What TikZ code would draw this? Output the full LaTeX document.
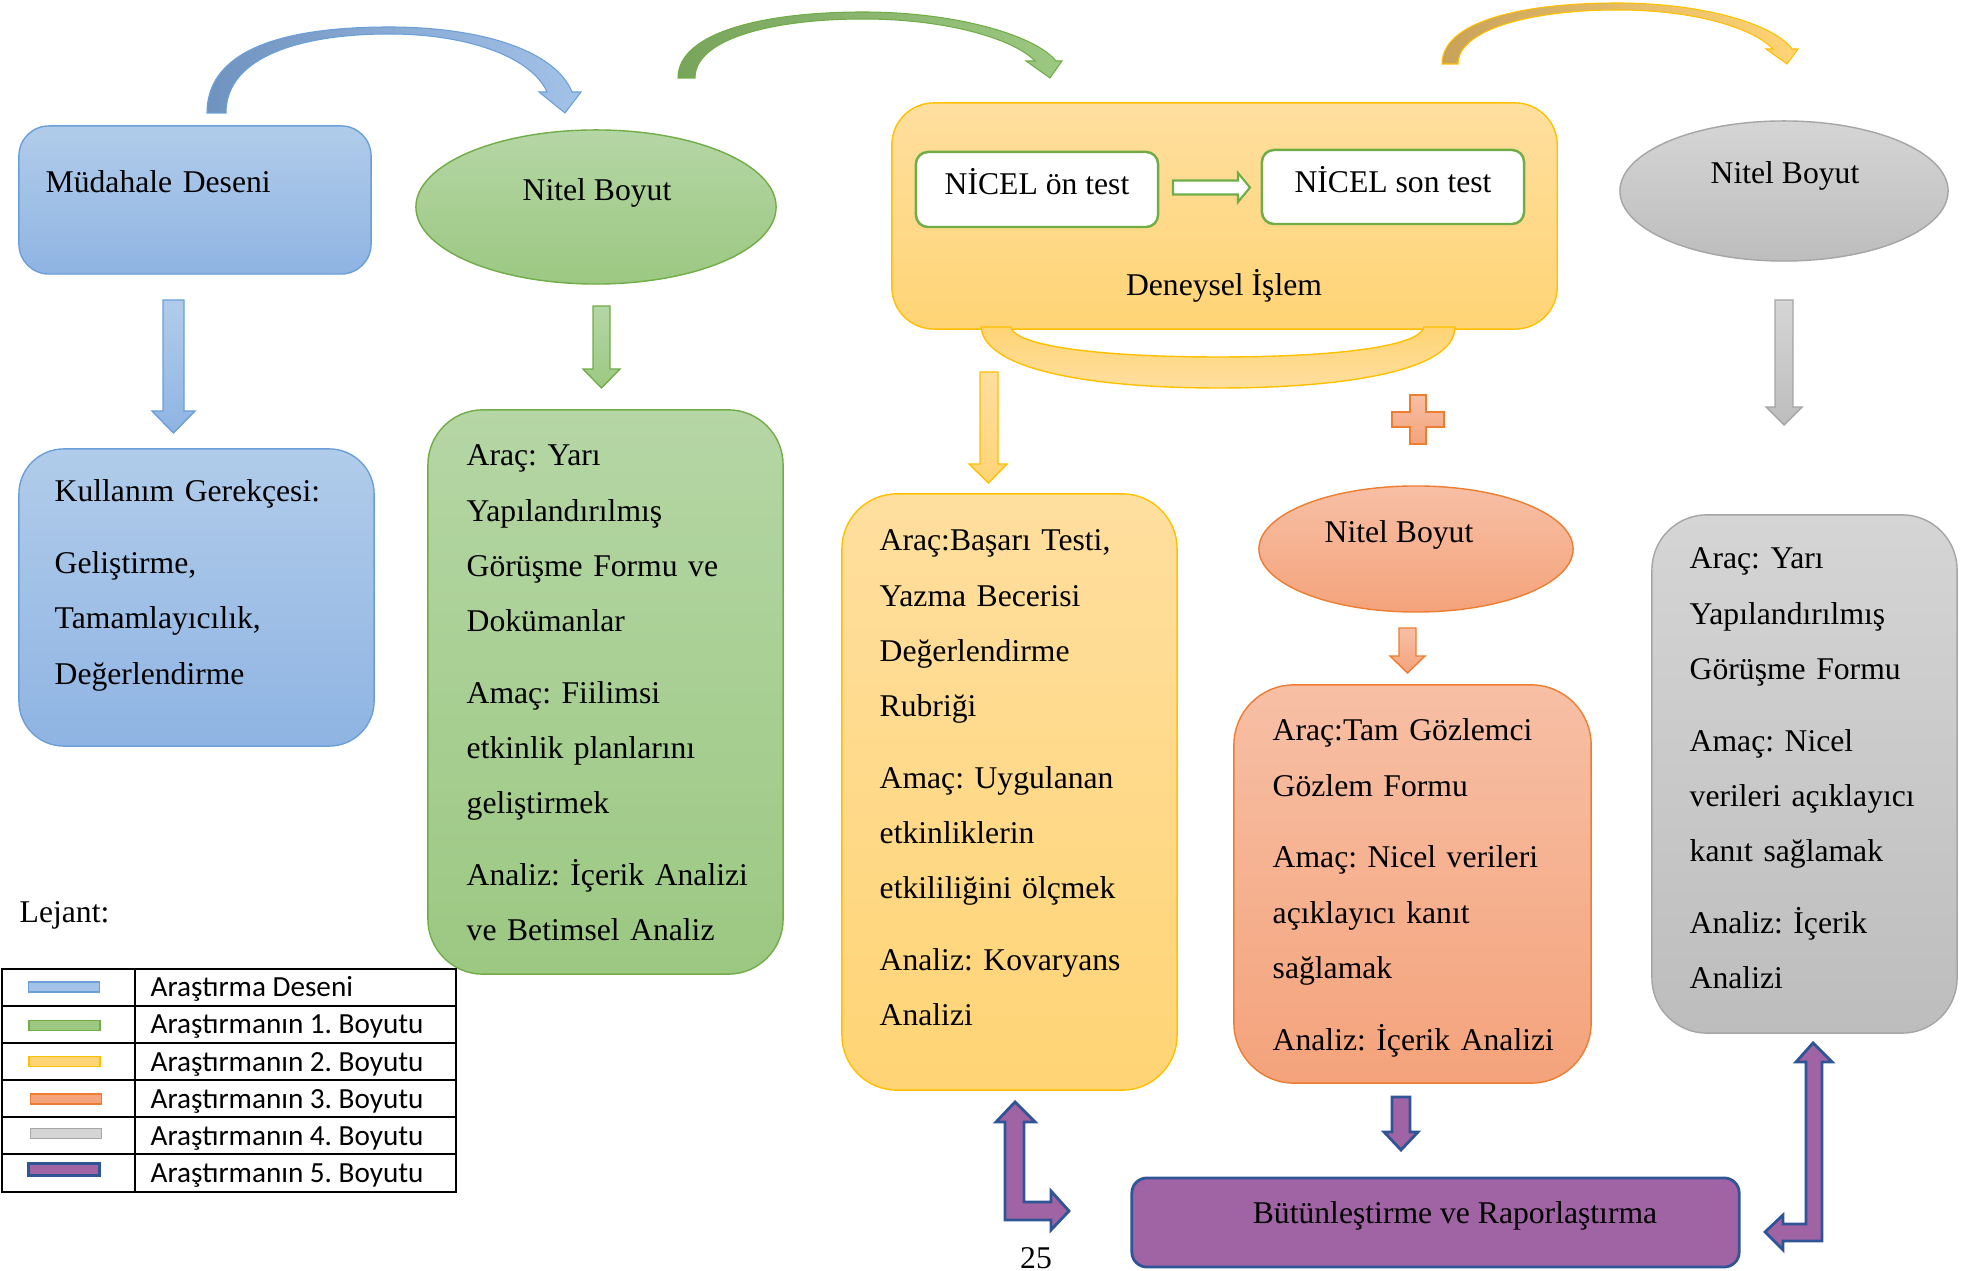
\documentclass[tikz,border=0pt]{standalone}
\usepackage{fontspec}
\setmainfont{Liberation Serif}
\newfontfamily\legendfont{Carlito}
\frenchspacing
\usetikzlibrary{shapes.geometric, positioning}
\definecolor{blueTop}{HTML}{B1CCEA}
\definecolor{blueBot}{HTML}{8FB4E3}
\definecolor{blueEdge}{HTML}{6A9FD8}
\definecolor{blueDark}{HTML}{6F93BF}
\definecolor{blueLight}{HTML}{A3C2E9}
\definecolor{greenTop}{HTML}{B5D6A5}
\definecolor{greenBot}{HTML}{9CC882}
\definecolor{greenEdge}{HTML}{70AD47}
\definecolor{greenDark}{HTML}{79A45C}
\definecolor{yellowTop}{HTML}{FFDF9F}
\definecolor{yellowBot}{HTML}{FFD475}
\definecolor{yellowEdge}{HTML}{FFC000}
\definecolor{yellowDark}{HTML}{C8A25A}
\definecolor{orangeTop}{HTML}{F7BFA5}
\definecolor{orangeBot}{HTML}{F4A37B}
\definecolor{orangeEdge}{HTML}{ED7D31}
\definecolor{grayTop}{HTML}{D5D5D5}
\definecolor{grayBot}{HTML}{BDBDBD}
\definecolor{grayEdge}{HTML}{A5A5A5}
\definecolor{purpleFill}{HTML}{A064A4}
\definecolor{purpleEdge}{HTML}{2F5597}

\begin{document}
\begin{tikzpicture}[
    x=0.01cm, y=-0.01cm,
    font=\fontsize{9}{15.7}\selectfont,
    box/.style={rounded corners=0.55cm, line width=0.4pt, inner sep=0pt},
    oval/.style={ellipse, line width=0.4pt, inner sep=0pt},
    bluefill/.style={top color=blueTop, bottom color=blueBot, draw=blueEdge, line width=0.4pt},
    greenfill/.style={top color=greenTop, bottom color=greenBot, draw=greenEdge, line width=0.4pt},
    yellowfill/.style={top color=yellowTop, bottom color=yellowBot, draw=yellowEdge, line width=0.4pt},
    orangefill/.style={top color=orangeTop, bottom color=orangeBot, draw=orangeEdge, line width=0.4pt},
    grayfill/.style={top color=grayTop, bottom color=grayBot, draw=grayEdge, line width=0.4pt},
    purplefill/.style={fill=purpleFill, draw=purpleEdge, line width=0.8pt},
    bluearc/.style={left color=blueDark, right color=blueLight, draw=blueEdge, line width=0.3pt},
    greenarc/.style={left color=greenDark, right color=greenBot, draw=greenEdge, line width=0.3pt},
    yellowarc/.style={left color=yellowDark, right color=yellowBot, draw=yellowEdge, line width=0.3pt},
    testbox/.style={draw=greenEdge, fill=white, line width=0.7pt, rounded corners=0.12cm, inner sep=0pt,
        text height=6.5pt, text depth=3.4pt},
    body/.style={anchor=base west, align=left, text width=3.2cm, inner sep=0pt},
    oneline/.style={anchor=base, inner sep=0pt},
    swatch/.style={minimum width=0.71cm, minimum height=0.1cm, inner sep=0pt, line width=0.5pt},
    legtext/.style={anchor=base west, inner sep=0pt, font=\legendfont\fontsize{8.3}{10}\selectfont}
]
    \useasboundingbox (0,0) rectangle (1970,1271);

    % Curved arrows on top
    \draw[bluearc] (207,113) .. controls (207,45) and (295,27) .. (389,27)
        .. controls (480,27) and (555,50) .. (572,92) -- (581,92) -- (565,113) -- (539,92) -- (547,92)
        .. controls (532,58) and (470,34) .. (389,34) .. controls (305,34) and (226,55) .. (226,113) -- cycle;
    \draw[greenarc] (678,78) .. controls (678,32) and (765,12) .. (863,12)
        .. controls (955,12) and (1035,35) .. (1056,61) -- (1062,61) -- (1050,78) -- (1026,61) -- (1035,61)
        .. controls (1015,40) and (950,19) .. (863,19) .. controls (775,19) and (695,38) .. (695,78) -- cycle;
    \draw[yellowarc] (1442,64) .. controls (1442,22) and (1520,3) .. (1617,3)
        .. controls (1705,3) and (1775,25) .. (1792,49) -- (1798,49) -- (1787,64) -- (1766,49) -- (1773,49)
        .. controls (1755,30) and (1700,10) .. (1617,10) .. controls (1530,10) and (1458,30) .. (1458,64) -- cycle;

    % Research design
    \node[box, bluefill, rounded corners=0.3cm, minimum width=3.52cm, minimum height=1.48cm] (mudahale) at (195,200) {};
    \node[body] (mudahaleText) at (45,193) {Müdahale Deseni};
    \draw[bluefill] (163,300) -- (184,300) -- (184,411) -- (195,411) -- (173.5,433) -- (152,411) -- (163,411) -- cycle;
    \node[box, bluefill, rounded corners=0.45cm, minimum width=3.55cm, minimum height=2.97cm] (kullanim) at (196.5,597.5) {};
    \node[body] (kullanimText) at (54,502) {Kullanım Gerekçesi:\\[4.7pt] Geliştirme,\\ Tamamlayıcılık,\\ Değerlendirme};

    % 1. dimension
    \node[oval, greenfill, minimum width=3.6cm, minimum height=1.54cm] (nitelA) at (596,207) {};
    \node[oneline] (nitelAText) at (597,201) {Nitel Boyut};
    \draw[greenfill] (593,306) -- (610,306) -- (610,369) -- (620,369) -- (601.5,388) -- (583,369) -- (593,369) -- cycle;
    \node[box, greenfill, minimum width=3.55cm, minimum height=5.64cm] (aracA) at (605.5,692) {};
    \node[body] (aracAText) at (466,466) {Araç: Yarı\\ Yapılandırılmış\\ Görüşme Formu ve\\ Dokümanlar\\[4.7pt]
        Amaç: Fiilimsi\\ etkinlik planlarını\\ geliştirmek\\[4.7pt] Analiz: İçerik Analizi\\ ve Betimsel Analiz};

    % 2. dimension
    \node[box, yellowfill, rounded corners=0.42cm, minimum width=6.65cm, minimum height=2.26cm] (deneysel) at (1224.5,216) {};
    \node[testbox, minimum width=2.42cm, minimum height=0.75cm] (onTest) at (1037,189.5) {NİCEL ön test};
    \node[testbox, minimum width=2.62cm, minimum height=0.74cm] (sonTest) at (1393,187) {NİCEL son test};
    \draw[draw=greenEdge, fill=white, line width=0.6pt] (1173,180.5) -- (1238,180.5) -- (1238,173) -- (1250,187.5)
        -- (1238,202) -- (1238,194.5) -- (1173,194.5) -- cycle;
    \node[oneline] (deneyselText) at (1224,296) {Deneysel İşlem};
    \draw[top color=yellowBot, bottom color=yellowTop, draw=yellowEdge, line width=0.4pt]
        (981,327) .. controls (985,372) and (1100,388) .. (1218,388) .. controls (1340,388) and (1455,372) .. (1455,327)
        -- (1424,327) .. controls (1420,346) and (1340,357) .. (1218,357) .. controls (1100,357) and (1014,346) .. (1011,327) -- cycle;
    \draw[yellowfill] (980,372) -- (998,372) -- (998,464) -- (1007,464) -- (988.5,483) -- (969,464) -- (980,464) -- cycle;
    \node[box, yellowfill, minimum width=3.35cm, minimum height=5.96cm] (aracB) at (1009.5,792) {};
    \node[body] (aracBText) at (879,551) {Araç:Başarı Testi,\\ Yazma Becerisi\\ Değerlendirme\\ Rubriği\\[4.7pt]
        Amaç: Uygulanan\\ etkinliklerin\\ etkililiğini ölçmek\\[4.7pt] Analiz: Kovaryans\\ Analizi};

    % 3. dimension
    \draw[orangefill] (1410,395) -- (1426,395) -- (1426,412) -- (1444,412) -- (1444,427) -- (1426,427) -- (1426,444)
        -- (1410,444) -- (1410,427) -- (1392,427) -- (1392,412) -- (1410,412) -- cycle;
    \node[oval, orangefill, minimum width=3.14cm, minimum height=1.26cm] (nitelC) at (1416,549) {};
    \node[oneline] (nitelCText) at (1399,543) {Nitel Boyut};
    \draw[orangefill] (1399,628) -- (1416,628) -- (1416,656) -- (1425,656) -- (1407.5,673) -- (1390,656) -- (1399,656) -- cycle;
    \node[box, orangefill, rounded corners=0.6cm, minimum width=3.57cm, minimum height=3.98cm] (aracC) at (1412.5,884) {};
    \node[body] (aracCText) at (1272,741) {Araç:Tam Gözlemci\\ Gözlem Formu\\[4.7pt] Amaç: Nicel verileri\\
        açıklayıcı kanıt\\ sağlamak\\[4.7pt] Analiz: İçerik Analizi};

    % 4. dimension
    \node[oval, grayfill, minimum width=3.28cm, minimum height=1.4cm] (nitelD) at (1784,191) {};
    \node[oneline] (nitelDText) at (1785,184) {Nitel Boyut};
    \draw[grayfill] (1775,300) -- (1793,300) -- (1793,407) -- (1802,407) -- (1784,425) -- (1766,407) -- (1775,407) -- cycle;
    \node[box, grayfill, minimum width=3.05cm, minimum height=5.18cm] (aracD) at (1804.5,774) {};
    \node[body] (aracDText) at (1689,569) {Araç: Yarı\\ Yapılandırılmış\\ Görüşme Formu\\[4.7pt] Amaç: Nicel\\
        verileri açıklayıcı\\ kanıt sağlamak\\[4.7pt] Analiz: İçerik\\ Analizi};

    % 5. dimension
    \node[box, purplefill, rounded corners=0.15cm, minimum width=6.07cm, minimum height=0.89cm] (butun) at (1435.5,1222.5) {};
    \node[oneline] (butunText) at (1455,1223) {Bütünleştirme ve Raporlaştırma};
    \draw[purplefill] (1392,1097) -- (1410,1097) -- (1410,1132) -- (1418,1132) -- (1401,1150) -- (1384,1132) -- (1392,1132) -- cycle;
    \draw[purplefill] (1015,1102) -- (1035,1122) -- (1024,1122) -- (1024,1202) -- (1051,1202) -- (1051,1191) -- (1069,1211)
        -- (1051,1230) -- (1051,1220) -- (1005,1220) -- (1005,1122) -- (996,1122) -- cycle;
    \draw[purplefill] (1813,1043) -- (1832,1062) -- (1822,1062) -- (1822,1241) -- (1783,1241) -- (1783,1250) -- (1765,1232)
        -- (1783,1215) -- (1783,1224) -- (1806,1224) -- (1806,1062) -- (1796,1062) -- cycle;
    \node[oneline] (sayfa) at (1036,1268) {25};

    % Legend
    \node[body] (lejant) at (19,923) {Lejant:};
    \draw[line width=0.6pt] (2,969) rectangle (456,1192);
    \draw[line width=0.6pt] (135,969) -- (135,1192)
        (2,1006) -- (456,1006) (2,1043) -- (456,1043) (2,1080) -- (456,1080)
        (2,1117) -- (456,1117) (2,1154) -- (456,1154);
    \node[swatch, fill=blueLight, draw=blueEdge] (sw1) at (64,987) {};
    \node[swatch, fill=greenBot, draw=greenEdge] (sw2) at (64.5,1025.5) {};
    \node[swatch, fill=yellowBot, draw=yellowEdge] (sw3) at (64.5,1061.5) {};
    \node[swatch, fill=orangeBot, draw=orangeEdge] (sw4) at (66,1099) {};
    \node[swatch, fill=grayTop, draw=grayEdge] (sw5) at (66,1133.5) {};
    \node[swatch, fill=purpleFill, draw=purpleEdge, line width=1pt, minimum height=0.12cm] (sw6) at (64,1169.5) {};
    \node[legtext] (leg1) at (150,997) {Araştırma Deseni};
    \node[legtext] (leg2) at (150,1034) {Araştırmanın 1. Boyutu};
    \node[legtext] (leg3) at (150,1071) {Araştırmanın 2. Boyutu};
    \node[legtext] (leg4) at (150,1108.5) {Araştırmanın 3. Boyutu};
    \node[legtext] (leg5) at (150,1145.7) {Araştırmanın 4. Boyutu};
    \node[legtext] (leg6) at (150,1182.8) {Araştırmanın 5. Boyutu};
\end{tikzpicture}
\end{document}
